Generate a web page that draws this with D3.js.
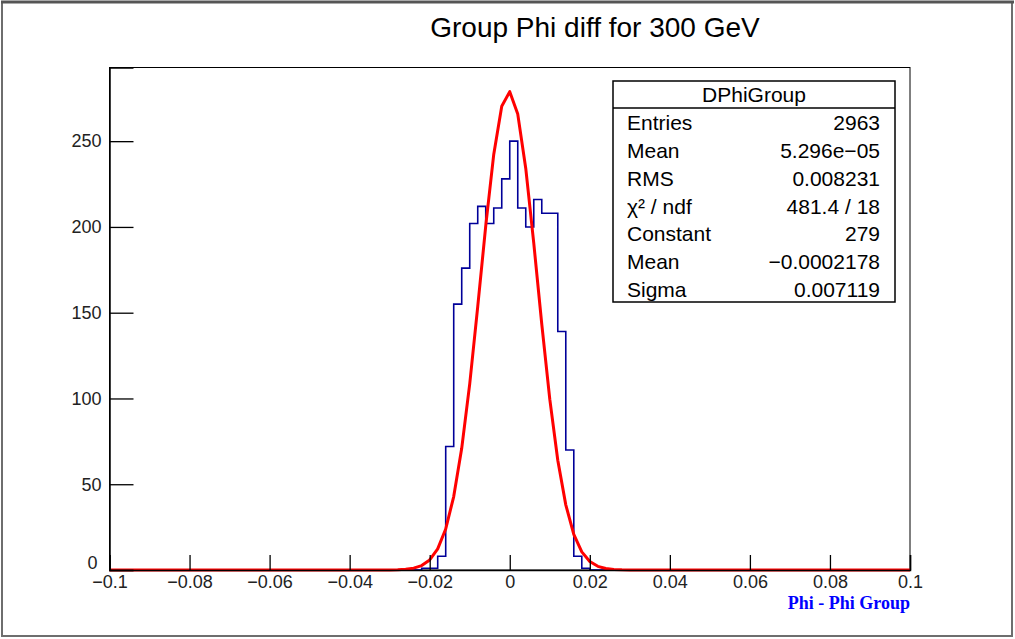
<!DOCTYPE html>
<html>
<head>
<meta charset="utf-8">
<script src="https://cdn.jsdelivr.net/npm/d3@7"></script>
<style>
  html, body { margin: 0; padding: 0; background: #fff; }
  svg { display: block; }
</style>
</head>
<body>
<svg id="chart" width="1015" height="639"></svg>
<script>
// ---- data ----
const chartTitle = "Group Phi diff for 300 GeV";
const xAxisTitle = "Phi - Phi Group";
const xDomain = [-0.1, 0.1];
const yDomain = [0, 292.95];
const binWidth = 0.002;
const firstBinLow = -0.022;               // low edge of first non-empty bin
const binCounts = [1, 1, 8, 72, 155, 176, 202, 212, 202, 211, 228, 250,
                   211, 200, 216, 208, 208, 139, 70, 8, 1];
const xTickValues = [-0.1, -0.08, -0.06, -0.04, -0.02, 0, 0.02, 0.04, 0.06, 0.08, 0.1];
const xTickLabels = ["\u22120.1", "\u22120.08", "\u22120.06", "\u22120.04", "\u22120.02", "0",
                     "0.02", "0.04", "0.06", "0.08", "0.1"];
const yTickValues = [0, 50, 100, 150, 200, 250];
const yTickLabels = ["0", "50", "100", "150", "200", "250"];
const fitConstant = 279;
const fitMean = -0.0002178;
const fitSigma = 0.007119;
const statsTitle = "DPhiGroup";
const statsNames = ["Entries", "Mean", "RMS", "\u03C7\u00B2 / ndf", "Constant", "Mean", "Sigma"];
const statsValues = ["2963", "5.296e\u221205", "0.008231", "481.4 / 18", "279", "\u22120.0002178", "0.007119"];

// ---- layout ----
const W = 1015, H = 639;
const SANS = "'Liberation Sans', Arial, Helvetica, sans-serif";
const SERIF = "'Liberation Serif', 'Times New Roman', Times, serif";
const frame = { left: 109.5, right: 910, top: 67.5, bottom: 570 };
const svg = d3.select("#chart").style("font-family", SANS);

svg.append("rect").attr("width", W).attr("height", H).attr("fill", "#fff");
// canvas border (bevelled look)
svg.append("rect").attr("x", 2).attr("y", 2).attr("width", W - 5).attr("height", H - 5)
  .attr("fill", "none").attr("stroke", "#6e6e6e").attr("stroke-width", 2);
svg.append("line").attr("x1", 1).attr("x2", W - 1).attr("y1", 2).attr("y2", 2)
  .attr("stroke", "#555").attr("stroke-width", 3);

const x = d3.scaleLinear().domain(xDomain).range([frame.left, frame.right]);
const y = d3.scaleLinear().domain(yDomain).range([frame.bottom, frame.top]);

// title
svg.append("text").attr("x", 595).attr("y", 37).attr("text-anchor", "middle")
  .style("font-size", "28px").attr("fill", "#000").text(chartTitle);

// frame
svg.append("rect").attr("x", frame.left).attr("y", frame.top)
  .attr("width", frame.right - frame.left).attr("height", frame.bottom - frame.top)
  .attr("fill", "none").attr("stroke", "#000").attr("stroke-width", 1);

// histogram step line over full axis range
const nBins = Math.round((xDomain[1] - xDomain[0]) / binWidth);
const firstIdx = Math.round((firstBinLow - xDomain[0]) / binWidth);
const counts = d3.range(nBins).map(i => {
  const k = i - firstIdx;
  return (k >= 0 && k < binCounts.length) ? binCounts[k] : 0;
});
const stepPts = counts.map((c, i) => [xDomain[0] + i * binWidth, c]);
stepPts.push([xDomain[1], counts[nBins - 1]]);
const stepLine = d3.line().x(d => x(d[0])).y(d => y(d[1])).curve(d3.curveStepAfter);
svg.append("path").attr("d", stepLine(stepPts)).attr("fill", "none")
  .attr("stroke", "#000099").attr("stroke-width", 1.6);

// gaussian fit drawn from the fitted parameters (ROOT draws 100 segments)
const fitX = d3.range(0, 101).map(i => xDomain[0] + i * (xDomain[1] - xDomain[0]) / 100);
const fitPts = fitX.map(v => [v, fitConstant * Math.exp(-0.5 * Math.pow((v - fitMean) / fitSigma, 2))]);
const fitLine = d3.line().x(d => x(d[0])).y(d => y(d[1]));
svg.append("path").attr("d", fitLine(fitPts)).attr("fill", "none")
  .attr("stroke", "#ff0000").attr("stroke-width", 3).attr("stroke-linejoin", "round");

// x axis
const xMinor = d3.range(0, 51).map(i => xDomain[0] + i * 0.004);
const gx = svg.append("g").attr("transform", `translate(0,${frame.bottom})`);
gx.call(d3.axisBottom(x).tickValues(xMinor).tickSize(-7.5).tickFormat(""));
gx.call(d3.axisBottom(x).tickValues(xTickValues).tickSize(-15)
  .tickFormat((d, i) => xTickLabels[i]).tickPadding(5));
gx.selectAll(".domain").attr("stroke", "#000").attr("stroke-width", 1.5);
gx.selectAll("line").attr("stroke", "#000").attr("stroke-width", 1.3);
gx.selectAll("text").style("font-size", "18px").attr("fill", "#222").style("font-family", SANS);

// y axis
const yMinor = d3.range(0, 30).map(i => i * 10);
const gy = svg.append("g").attr("transform", `translate(${frame.left},0)`);
gy.call(d3.axisLeft(y).tickValues(yMinor).tickSize(-12).tickFormat(""));
gy.call(d3.axisLeft(y).tickValues(yTickValues).tickSize(-24)
  .tickFormat((d, i) => yTickLabels[i]).tickPadding(8));
gy.selectAll(".domain").attr("stroke", "#000").attr("stroke-width", 1.5);
gy.selectAll("line").attr("stroke", "#000").attr("stroke-width", 1.3);
gy.selectAll("text").style("font-size", "18px").attr("fill", "#222").style("font-family", SANS);
// ROOT lifts the 0 label slightly above the x labels
gy.selectAll(".tick text").filter(d => d === 0).attr("dy", "-0.1em").attr("x", -12);

// axis title
svg.append("text").attr("x", frame.right).attr("y", 609).attr("text-anchor", "end")
  .style("font-family", SERIF).style("font-weight", "bold")
  .style("font-size", "18px").attr("fill", "#0000ff").text(xAxisTitle);

// stats box
const sb = { x: 613, y: 81, w: 282, h: 221, titleH: 27 };
const g = svg.append("g");
g.append("rect").attr("x", sb.x).attr("y", sb.y).attr("width", sb.w).attr("height", sb.h)
  .attr("fill", "#fff").attr("stroke", "#000").attr("stroke-width", 1.5);
g.append("line").attr("x1", sb.x).attr("x2", sb.x + sb.w)
  .attr("y1", sb.y + sb.titleH).attr("y2", sb.y + sb.titleH)
  .attr("stroke", "#000").attr("stroke-width", 1.5);
g.append("text").attr("x", sb.x + sb.w / 2).attr("y", sb.y + 21).attr("text-anchor", "middle")
  .style("font-size", "21px").text(statsTitle);
const rowH = (sb.h - sb.titleH) / statsNames.length;
statsNames.forEach((n, i) => {
  const by = sb.y + sb.titleH + rowH * (i + 0.5) + 8.5;
  g.append("text").attr("x", sb.x + 14).attr("y", by).style("font-size", "21px").text(n);
  g.append("text").attr("x", sb.x + sb.w - 15).attr("y", by).attr("text-anchor", "end")
    .style("font-size", "21px").text(statsValues[i]);
});
</script>
</body>
</html>
